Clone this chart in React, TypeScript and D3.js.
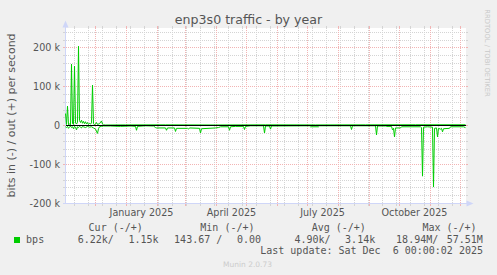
import React from "react";
import * as d3 from "d3";

// ---- data (bits per second) ----
const startDate = new Date(2024, 10, 1);
const endDate = new Date(2025, 11, 6);

const outDay = [0, 1, 2, 3, 4, 5, 6, 7, 8, 9, 10, 11, 12, 13, 14, 15, 16, 17, 18, 19, 20, 21, 22, 23, 24, 25, 26, 27, 28, 29, 30, 31, 32, 34, 36, 37, 38, 40, 60, 100, 150, 200, 250, 300, 350, 400];
const outK = [30, 2, 49, 1, 3, 1, 157, 4, 2, 152, 6, 3, 8, 203, 12, 7, 13, 5, 10, 4, 9, 3, 7, 2, 5, 3, 6, 103, 4, 1, 3, 7, 2, 4, 11, 3, 1, 0.5, 0.8, 1, 0.6, 1, 0.8, 1, 1.2, 1.15];

const inDay = [0, 1, 2, 3, 4, 5, 6, 7, 8, 9, 10, 11, 12, 13, 14, 15, 16, 17, 18, 20, 22, 24, 26, 28, 30, 32, 33, 34, 36, 38, 45, 55, 65, 70, 71, 72, 80, 88, 90, 91, 100, 101, 102, 109, 110, 111, 122, 123, 124, 134, 135, 136, 150, 153, 155, 163, 164, 165, 170, 178, 179, 180, 185, 198, 199, 200, 204, 205, 206, 244, 245, 253, 254, 285, 286, 287, 310, 311, 312, 320, 321, 326, 327, 328, 329, 330, 335, 336, 355, 356, 357, 358, 362, 367, 368, 369, 371, 372, 373, 375, 376, 377, 378, 384, 385, 398, 400];
const inK = [4, 6, 3, 8, 5, 2, 6, 4, 9, 3, 5, 12, 4, 6, 3, 5, 7, 3, 4, 6, 3, 5, 4, 7, 10, 21, 9, 4, 3, 2, 2, 3, 2, 3, 13, 3, 1.5, 2, 6, 7, 7, 13, 7, 7, 16, 8, 8, 10, 7, 8, 20, 9, 7, 6, 4, 4, 13, 4, 3, 3, 11, 3, 1.5, 1.5, 20, 2, 2, 10, 2, 1.5, 4, 4, 1.5, 1.5, 11, 1.5, 1.5, 25, 2, 2, 3, 3, 12, 8, 30, 7, 7, 4, 4, 6, 131, 5, 4, 5, 159, 8, 7, 30, 8, 10, 8, 17, 9, 8, 4, 4, 6.22];

const yTicks = [-200000, -100000, 0, 100000, 200000];
const yTickLabels = ["-200 k", "-100 k", "0", "100 k", "200 k"];
const xLabelMonths = [new Date(2025, 0, 1), new Date(2025, 3, 1), new Date(2025, 6, 1), new Date(2025, 9, 1)];
const xLabels = ["January 2025", "April 2025", "July 2025", "October 2025"];

const legendHeaders = ["Cur (-/+)", "Min (-/+)", "Avg (-/+)", "Max (-/+)"];
const legendValues = ["6.22k/", "1.15k", "143.67 /", "0.00", "4.90k/", "3.14k", "18.94M/", "57.51M"];
const seriesName = "bps";
const lastUpdate = "Last update: Sat Dec  6 00:00:02 2025";

const W = 497, H = 275;
const GREEN = "#00CC00";
const FONT = "#555555";
const AXIS = "#CFD6F8";

export default function App() {
  const x = d3.scaleTime().domain([startDate, endDate]).range([65.5, 465.5]);
  const y = d3.scaleLinear().domain([-200000, 250000]).range([203, 28]);
  const yy = (v: number) => Math.round(y(v)) + 0.5;

  const outData = outDay.map((d, i) => ({ t: d3.timeDay.offset(startDate, d), v: outK[i] * 1000 }));
  const inData = inDay.map((d, i) => ({ t: d3.timeDay.offset(startDate, d), v: -inK[i] * 1000 }));
  const line = d3.line<{ t: Date; v: number }>().x((d) => x(d.t)).y((d) => y(d.v));

  const minorY = d3.range(-200000, 250001, 20000).filter((v) => v % 100000 !== 0);
  const majorY = d3.range(-100000, 250001, 100000);
  const minorX = d3.timeDay.range(new Date(2024, 10, 10), endDate, 14);
  const majorX = d3.timeMonth.range(d3.timeDay.offset(startDate, 1), endDate);

  const xpix = (d: Date) => Math.round(x(d) - 0.5) + 0.5;

  const headerX = [88.6, 200.3, 311.7, 422.4];
  const valueX = [77.7, 128.4, 174.1, 236.9, 294.4, 345.1, 396.1, 446.7];

  return (
    <svg width={W} height={H} style={{ display: "block", position: "absolute", left: 0, top: 0 }}>
      <rect x={0} y={0} width={W} height={H} fill="#F0F0F0" />
      <rect x={65} y={28} width={401} height={175} fill="#FFFFFF" />
      {/* minor grid */}
      <g stroke="#D4D4D4" strokeWidth={1}>
        {minorY.map((v) => (
          <g key={"my" + v}>
            <line x1={66} x2={466} y1={yy(v)} y2={yy(v)} strokeDasharray="1,1" />
            <line x1={63} x2={65} y1={yy(v)} y2={yy(v)} />
            <line x1={466} x2={468} y1={yy(v)} y2={yy(v)} />
          </g>
        ))}
        {minorX.map((d) => (
          <g key={"mx" + +d}>
            <line x1={xpix(d)} x2={xpix(d)} y1={28} y2={203} strokeDasharray="1,1" />
            <line x1={xpix(d)} x2={xpix(d)} y1={26} y2={28} />
            <line x1={xpix(d)} x2={xpix(d)} y1={203} y2={206} />
          </g>
        ))}
      </g>
      {/* major grid */}
      <g stroke="#F2B4B4" strokeWidth={1}>
        {majorY.map((v) => (
          <g key={"My" + v}>
            <line x1={66} x2={466} y1={yy(v)} y2={yy(v)} strokeDasharray="1,1" />
            <line x1={63} x2={65} y1={yy(v)} y2={yy(v)} />
            <line x1={466} x2={468} y1={yy(v)} y2={yy(v)} />
          </g>
        ))}
        {majorX.map((d) => (
          <g key={"Mx" + +d}>
            <line x1={xpix(d)} x2={xpix(d)} y1={28} y2={203} strokeDasharray="1,1" />
            <line x1={xpix(d)} x2={xpix(d)} y1={26} y2={28} />
            <line x1={xpix(d)} x2={xpix(d)} y1={203} y2={206} />
          </g>
        ))}
      </g>
      {/* axes */}
      <g stroke={AXIS} strokeWidth={1}>
        <line x1={65.5} x2={65.5} y1={203} y2={24} />
        <line x1={63} x2={468} y1={203.5} y2={203.5} />
      </g>
      <path d="M62.5,27.5 L68.5,27.5 L65.5,20.5 Z" fill={AXIS} />
      <path d="M466.5,200.5 L466.5,206.5 L473.5,203.5 Z" fill={AXIS} />
      {/* data */}
      <path d={line(outData) || ""} fill="none" stroke={GREEN} strokeWidth={1} />
      <path d={line(inData) || ""} fill="none" stroke={GREEN} strokeWidth={1} />
      <line x1={66} x2={466} y1={yy(0)} y2={yy(0)} stroke="#000000" strokeWidth={1} />
      {/* y tick labels */}
      <g fontFamily="DejaVu Sans" fontSize={9.6} fill={FONT} textAnchor="end">
        {yTicks.map((v, i) => (
          <text key={v} x={60} y={yy(v) + 3}>{yTickLabels[i]}</text>
        ))}
      </g>
      {/* x labels */}
      <g fontFamily="DejaVu Sans" fontSize={9.6} fill={FONT} textAnchor="middle">
        {xLabelMonths.map((m, i) => (
          <text key={i} x={x(d3.timeDay.offset(m, 15))} y={215.5}>{xLabels[i]}</text>
        ))}
      </g>
      {/* title */}
      <text x={248.5} y={24} textAnchor="middle" fontFamily="DejaVu Sans" fontSize={12.6} fill={FONT}>
        enp3s0 traffic - by year
      </text>
      {/* y axis title */}
      <text transform="translate(15,115.5) rotate(-90)" textAnchor="middle" fontFamily="DejaVu Sans" fontSize={11} fill={FONT}>
        bits in (-) / out (+) per second
      </text>
      {/* watermark */}
      <text transform="translate(485,53) rotate(90)" textAnchor="middle" fontFamily="DejaVu Sans" fontSize={6.8} fill="#C8C8C8">
        RRDTOOL / TOBI OETIKER
      </text>
      {/* legend */}
      <g fontFamily="DejaVu Sans Mono" fontSize={10} fill={FONT} style={{ whiteSpace: "pre" }}>
        {legendHeaders.map((h, i) => (
          <text key={h} x={headerX[i]} y={231}>{h}</text>
        ))}
        <rect x={14} y={237} width={6} height={6} fill={GREEN} />
        <text x={26.1} y={243}>{seriesName}</text>
        {legendValues.map((v, i) => (
          <text key={i} x={valueX[i]} y={243}>{v}</text>
        ))}
        <text x={483} y={254} textAnchor="end" xmlSpace="preserve">{lastUpdate}</text>
      </g>
      <text x={247.5} y={267} textAnchor="middle" fontFamily="DejaVu Sans" fontSize={7.5} fill="#CCCCCC">
        Munin 2.0.73
      </text>
    </svg>
  );
}
